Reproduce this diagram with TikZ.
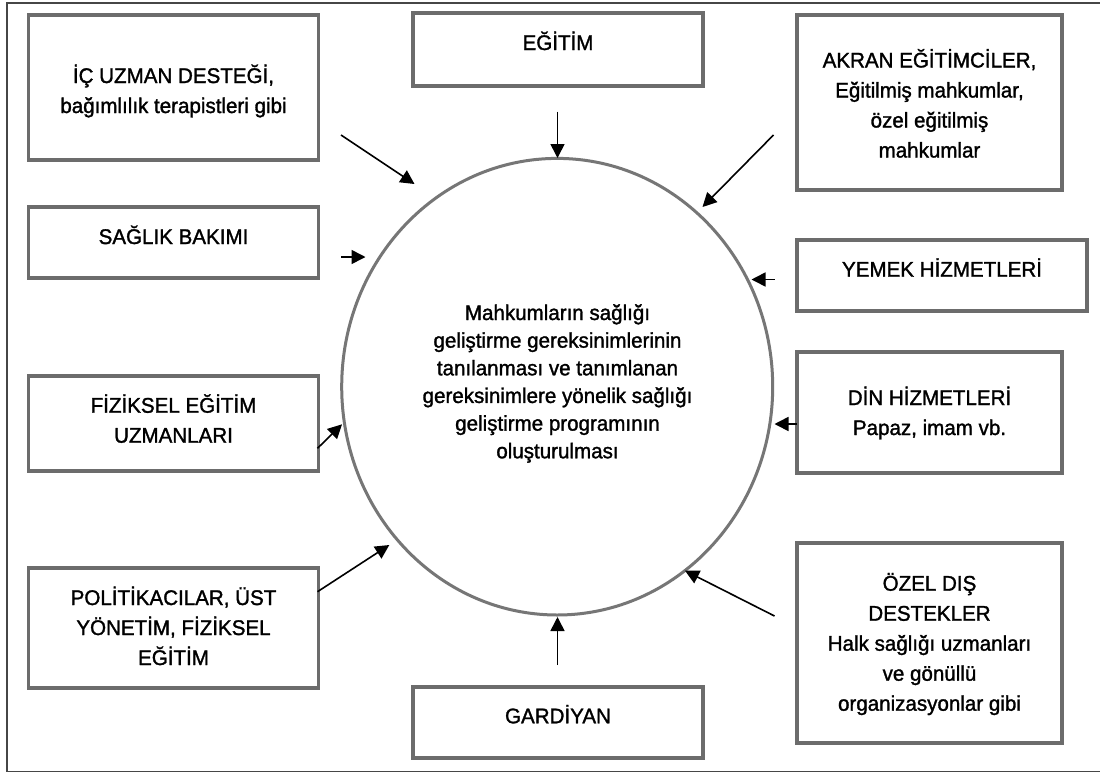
\documentclass[tikz,border=0pt]{standalone}
\usepackage{fontspec}
\setmainfont{Liberation Sans}[FakeBold=1.4,FakeStretch=0.97]
\usetikzlibrary{arrows.meta,shapes.geometric}
\definecolor{boxgray}{RGB}{108,108,108}
\definecolor{circgray}{RGB}{118,118,118}
\definecolor{framegray}{RGB}{70,70,70}
\newcommand\lst{\rule[-6pt]{0pt}{26pt}}
\begin{document}
\begin{tikzpicture}[x=1pt,y=-1pt,
  lbox/.style={draw=boxgray,line width=3.3pt,inner sep=0pt,minimum width=290pt},
  rbox/.style={draw=boxgray,line width=3.3pt,inner sep=0pt,minimum width=265pt},
  lbl/.style={inner sep=0pt,outer sep=0pt,anchor=north,align=center,font=\fontsize{21.2pt}{30pt}\selectfont},
  ctext/.style={lbl,font=\fontsize{21.2pt}{27.65pt}\selectfont},
  arr/.style={line width=1.6pt,-{Triangle[length=14pt,width=14pt]}}]
\useasboundingbox (0,0) rectangle (1100,774);
\fill[white] (0,0) rectangle (1100,774);
% outer frame
\draw[framegray,line width=1.5pt] (7,3) rectangle (1120,771.5);
% boxes
\node[lbox,minimum height=145pt] (bic) at (173.5,87.5) {};
\node[lbox,minimum height=71pt] (bsag) at (173.5,242.5) {};
\node[lbox,minimum height=95pt] (bfiz) at (173.5,423.5) {};
\node[lbox,minimum height=120pt] (bpol) at (173.5,628) {};
\node[lbox,minimum height=73pt] (begt) at (558,49.5) {};
\node[lbox,minimum height=71pt] (bgar) at (558,722.5) {};
\node[rbox,minimum height=175pt] (bakr) at (929.5,102.5) {};
\node[lbox,minimum height=71pt] (byem) at (942,275.5) {};
\node[rbox,minimum height=121pt] (bdin) at (929.5,412.5) {};
\node[rbox,minimum height=200pt] (boze) at (929.5,643) {};
% circle
\node[ellipse,draw=circgray,line width=3pt,inner sep=0pt,minimum width=431pt,minimum height=456.6pt] (circ) at (557.2,386.7) {};
% texts
\node[lbl] (tic) at (173.5,63) {\lst İÇ UZMAN DESTEĞİ,\\\lst bağımlılık terapistleri gibi};
\node[lbl] (tsag) at (173.5,224) {\lst SAĞLIK BAKIMI};
\node[lbl] (tfiz) at (173.5,392.7) {\lst FİZİKSEL EĞİTİM\\\lst UZMANLARI};
\node[lbl] (tpol) at (173.5,585) {\lst POLİTİKACILAR, ÜST\\\lst YÖNETİM, FİZİKSEL\\\lst EĞİTİM};
\node[lbl] (tegt) at (558,30) {\lst EĞİTİM};
\node[lbl] (tgar) at (558,703.3) {\lst GARDİYAN};
\node[lbl] (takr) at (929.5,47.5) {\lst AKRAN EĞİTİMCİLER,\\\lst Eğitilmiş mahkumlar,\\\lst özel eğitilmiş\\\lst mahkumlar};
\node[lbl] (tyem) at (942,256.7) {\lst YEMEK HİZMETLERİ};
\node[lbl] (tdin) at (929.5,385) {\lst DİN HİZMETLERİ\\\lst Papaz, imam vb.};
\node[lbl] (toze) at (929.5,570.7) {\lst ÖZEL DIŞ\\\lst DESTEKLER\\\lst Halk sağlığı uzmanları\\\lst ve gönüllü\\\lst organizasyonlar gibi};
\node[ctext] (tcen) at (557.5,300) {\lst Mahkumların sağlığı\\\lst geliştirme gereksinimlerinin\\\lst tanılanması ve tanımlanan\\\lst gereksinimlere yönelik sağlığı\\\lst geliştirme programının\\\lst oluşturulması};
% arrow end points
\coordinate (a1s) at (341,135);     \coordinate (a1e) at (414.5,184);
\coordinate (a2s) at (341,257);     \coordinate (a2e) at (365.5,257);
\coordinate (a3s) at (557.5,111.5); \coordinate (a3e) at (557.5,158);
\coordinate (a4s) at (773.5,135);   \coordinate (a4e) at (702.5,207);
\coordinate (a5s) at (774.5,279.5); \coordinate (a5e) at (751.5,279.5);
\coordinate (a6s) at (317.5,448.3); \coordinate (a6e) at (342,424.3);
\coordinate (a7s) at (317.5,591.7); \coordinate (a7e) at (389.3,545);
\coordinate (a8s) at (557.5,665);   \coordinate (a8e) at (557.5,617);
\coordinate (a9s) at (797,424);     \coordinate (a9e) at (774.5,424);
\coordinate (a10s) at (774.5,616);  \coordinate (a10e) at (685,570.7);
\draw[arr] (a1s) -- (a1e);
\draw[arr] (a2s) -- (a2e);
\draw[arr] (a3s) -- (a3e);
\draw[arr] (a4s) -- (a4e);
\draw[arr] (a5s) -- (a5e);
\draw[arr] (a6s) -- (a6e);
\draw[arr] (a7s) -- (a7e);
\draw[arr] (a8s) -- (a8e);
\draw[arr] (a9s) -- (a9e);
\draw[arr] (a10s) -- (a10e);
\end{tikzpicture}
\end{document}
